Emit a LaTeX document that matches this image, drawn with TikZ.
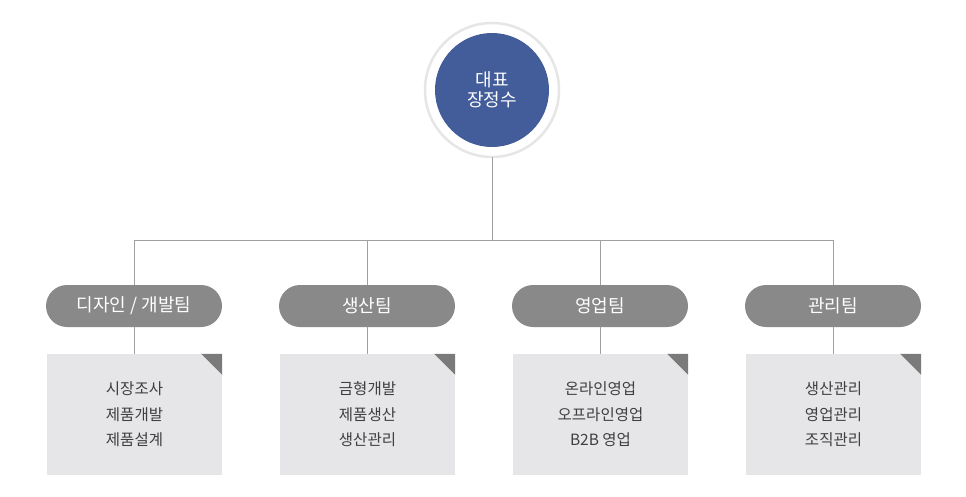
\documentclass[tikz,border=0pt]{standalone}
\usepackage{fontspec}
\usetikzlibrary{shapes.misc}
\setmainfont{Noto Sans CJK KR}
\begin{document}
\begin{tikzpicture}[x=1pt,y=-1pt,
  conn/.style={draw=linegray,line width=1pt},
  pill/.style={rounded rectangle, fill=pillgray, text=white, minimum width=176pt, minimum height=42pt, inner sep=0pt, font=\fontsize{18}{20}\selectfont},
  duty/.style={fill=boxgray, minimum width=175pt, minimum height=121pt, inner sep=0pt, text=textgray, align=center, font=\fontsize{15.5}{25.5}\selectfont}
]
\definecolor{linegray}{HTML}{A0A0A0}
\definecolor{pillgray}{HTML}{898989}
\definecolor{boxgray}{HTML}{E6E6E8}
\definecolor{cornergray}{HTML}{7A7A7A}
\definecolor{textgray}{HTML}{3F3F3F}
\definecolor{ceoblue}{HTML}{435C9A}
\definecolor{ringgray}{HTML}{E6E6E6}
\useasboundingbox (0,0) rectangle (966,496);
\fill[white] (0,0) rectangle (966,496);
% CEO
\draw[ringgray, line width=2.5pt, fill=white] (492,90) circle (67pt);
\node[circle, fill=ceoblue, minimum size=114pt, inner sep=0pt, text=white, align=center, font=\fontsize{18}{20.5}\selectfont] (ceo) at (492,90) {대표\\장정수};
\coordinate (hub) at (492,240);
\coordinate (hl) at (134,240);
\coordinate (hr) at (833,240);
\draw[conn] (492,157) -- (hub);
\draw[conn] (hl) -- (hr);
% teams
\foreach \name/\cx/\label/\duties in {
  t1/134/{디자인 / 개발팀}/{시장조사\\제품개발\\제품설계},
  t2/367/{생산팀}/{금형개발\\제품생산\\생산관리},
  t3/600/{영업팀}/{온라인영업\\오프라인영업\\B2B 영업},
  t4/833/{관리팀}/{생산관리\\영업관리\\조직관리}} {
  \coordinate (\name top) at (\cx,240);
  \node[duty] (\name box) at (\cx+0.5,414.5) {\duties};
  \fill[cornergray] ([xshift=-21pt]\name box.north east) -- (\name box.north east) -- ([yshift=-21pt]\name box.north east) -- cycle;
  \node[pill] (\name) at (\cx,306) {\label};
  \draw[conn] (\name top) -- (\name.north);
  \draw[conn] (\name.south) -- (\name box.north -| \name.south);
}
\end{tikzpicture}
\end{document}
